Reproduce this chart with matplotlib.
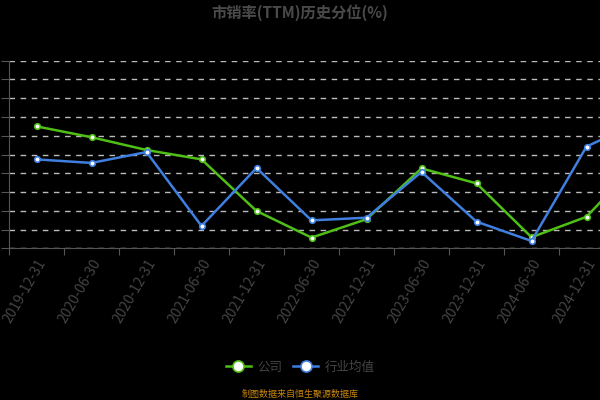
import numpy as np
import matplotlib.pyplot as plt

plt.rcParams['font.family'] = ['Noto Sans CJK SC', 'DejaVu Sans']

# data (percentile, %)
# the last point lies past the right edge of the picture, its label is not shown
dates = ['2019-12-31', '2020-06-30', '2020-12-31', '2021-06-30', '2021-12-31', '2022-06-30',
         '2022-12-31', '2023-06-30', '2023-12-31', '2024-06-30', '2024-12-31', '']
company = [65.0, 59.2, 52.4, 47.4, 19.9, 5.7, 15.5, 42.6, 34.6, 5.9, 16.8, 47.8]
industry = [47.4, 45.5, 51.3, 11.9, 42.8, 14.9, 16.3, 40.7, 14.2, 3.9, 54.2, 68.0]

green = '#4fbf16'
blue = '#3f7fe0'

fig = plt.figure(figsize=(6, 4), dpi=100, facecolor='black')
# the plot area runs past the right edge of the picture, as in the reference
ax = fig.add_axes([9 / 600, 1 - 248.3 / 400, 660 / 600, (248.3 - 60.7) / 400])
ax.set_facecolor('black')

x = np.arange(len(dates))
ax.plot(x, company, color=green, lw=1.8, marker='o', ms=4,
        mfc='white', mec=green, mew=1.2, label='公司', zorder=3)
ax.plot(x, industry, color=blue, lw=1.8, marker='o', ms=4,
        mfc='white', mec=blue, mew=1.2, label='行业均值', zorder=3)

ax.set_xlim(-0.5, len(dates) - 0.5)
ax.set_ylim(0, 100)
ax.set_yticks(np.arange(0, 101, 10))
ax.yaxis.grid(True, color='#bbbbbb', ls=(0, (4, 4)), lw=1)
ax.set_axisbelow(True)

ax.set_xticks(np.arange(-0.5, len(dates), 1), minor=False)
ax.set_xticklabels([])
ax.set_xticks(x, minor=True)
ax.set_xticklabels(dates, minor=True, rotation=60, ha='right',
                   rotation_mode='anchor', color='#444444', fontsize=10)
ax.tick_params(axis='x', which='major', length=5, color='#555555')
ax.tick_params(axis='x', which='minor', length=0, pad=6)
ax.tick_params(axis='y', length=6, color='#555555', labelleft=False)

for s in ['top', 'right']:
    ax.spines[s].set_visible(False)
for s in ['left', 'bottom']:
    ax.spines[s].set_color('#555555')

fig.text(0.5, 1 - 13 / 400, '市销率(TTM)历史分位(%)', ha='center', va='center',
         color='#4a4a4a', fontsize=11, fontweight='bold')

leg = fig.legend(loc='center', bbox_to_anchor=(0.5, 1 - 367 / 400), ncol=2,
                 frameon=False, fontsize=9, handlelength=2.0, handletextpad=0.5,
                 columnspacing=0.9, markerscale=2.0)
for t in leg.get_texts():
    t.set_color('#444444')

fig.text(0.5, 1 - 394 / 400, '制图数据来自恒生聚源数据库', ha='center', va='center',
         color='#c8860b', fontsize=6.5)

fig.savefig('out.png', dpi=100, facecolor='black')
